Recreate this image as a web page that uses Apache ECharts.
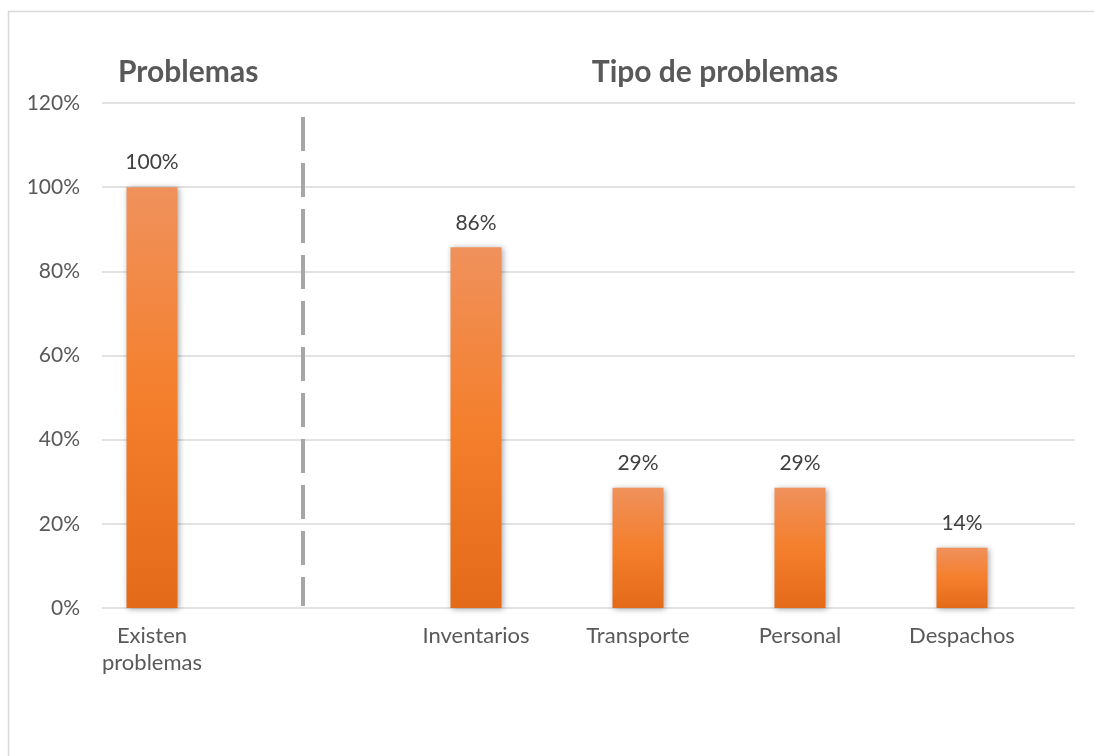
<!DOCTYPE html>
<html>
<head>
<meta charset="utf-8">
<script src="https://cdn.jsdelivr.net/npm/echarts@6/dist/echarts.min.js"></script>
<style>
html,body{margin:0;padding:0;background:#fff;}
#chart{width:1094px;height:756px;}
</style>
</head>
<body>
<div id="chart"></div>
<script>
var categories = ['Existen\nproblemas', '', 'Inventarios', 'Transporte', 'Personal', 'Despachos'];
var values = [100, null, 85.7, 28.6, 28.6, 14.3];
var yTicks = { min: 0, max: 120, interval: 20 };
var groupTitles = ['Problemas', 'Tipo de problemas'];

var font = 'Lato';
var chart = echarts.init(document.getElementById('chart'), null, { renderer: 'canvas' });

var option = {
  backgroundColor: '#ffffff',
  animation: false,
  title: [
    { text: groupTitles[0], left: 113, top: 52,
      textStyle: { fontFamily: font, fontWeight: 'bold', fontSize: 30, color: '#595959' } },
    { text: groupTitles[1], left: 710, textAlign: 'center', top: 52,
      textStyle: { fontFamily: font, fontWeight: 'bold', fontSize: 30, color: '#595959' } }
  ],
  graphic: [
    { type: 'rect', shape: { x: 8.5, y: 11.5, width: 1200, height: 900 },
      style: { fill: 'none', stroke: '#d9d9d9', lineWidth: 1.5 }, silent: true, z: -10 }
  ],
  grid: [
    { left: 71, right: 51, top: 103, bottom: 148 },
    { left: 102, right: 19, top: 103, bottom: 148 }
  ],
  xAxis: [
    { type: 'category', gridIndex: 0, data: categories,
      axisLine: { show: false }, axisTick: { show: false },
      axisLabel: { fontFamily: font, fontSize: 22, color: '#595959', margin: 14, lineHeight: 27, interval: 0 } },
    { type: 'value', gridIndex: 1, show: false, min: 0, max: 1 }
  ],
  yAxis: [
    { type: 'value', gridIndex: 0, min: yTicks.min, max: yTicks.max, interval: yTicks.interval, show: false },
    { type: 'value', gridIndex: 1, min: yTicks.min, max: yTicks.max, interval: yTicks.interval,
      axisLine: { show: false }, axisTick: { show: false },
      axisLabel: { formatter: '{value}%', fontFamily: font, fontSize: 21, color: '#595959', margin: 22 },
      splitLine: { lineStyle: { color: '#d9d9d9', width: 1.5 } } }
  ],
  series: [
    {
      type: 'bar', xAxisIndex: 0, yAxisIndex: 0, data: values, barWidth: 51,
      itemStyle: {
        color: new echarts.graphic.LinearGradient(0, 0, 0, 1, [
          { offset: 0, color: '#F0915C' },
          { offset: 0.5, color: '#F47F2C' },
          { offset: 1, color: '#E36A19' }
        ]),
        shadowBlur: 6, shadowColor: 'rgba(0,0,0,0.35)', shadowOffsetX: 1, shadowOffsetY: 1
      },
      label: {
        show: true, position: 'top', distance: 14,
        fontFamily: font, fontSize: 21, color: '#404040',
        formatter: function (p) { return Math.round(p.value) + '%'; }
      },
      markLine: {
        silent: true, symbol: 'none', label: { show: false },
        lineStyle: { color: '#a6a6a6', width: 4, type: [34, 12] },
        data: [[{ x: 303, y: 117 }, { x: 303, y: 606 }]]
      }
    },
    { type: 'line', xAxisIndex: 1, yAxisIndex: 1, data: [], silent: true }
  ]
};
chart.setOption(option);
</script>
</body>
</html>
